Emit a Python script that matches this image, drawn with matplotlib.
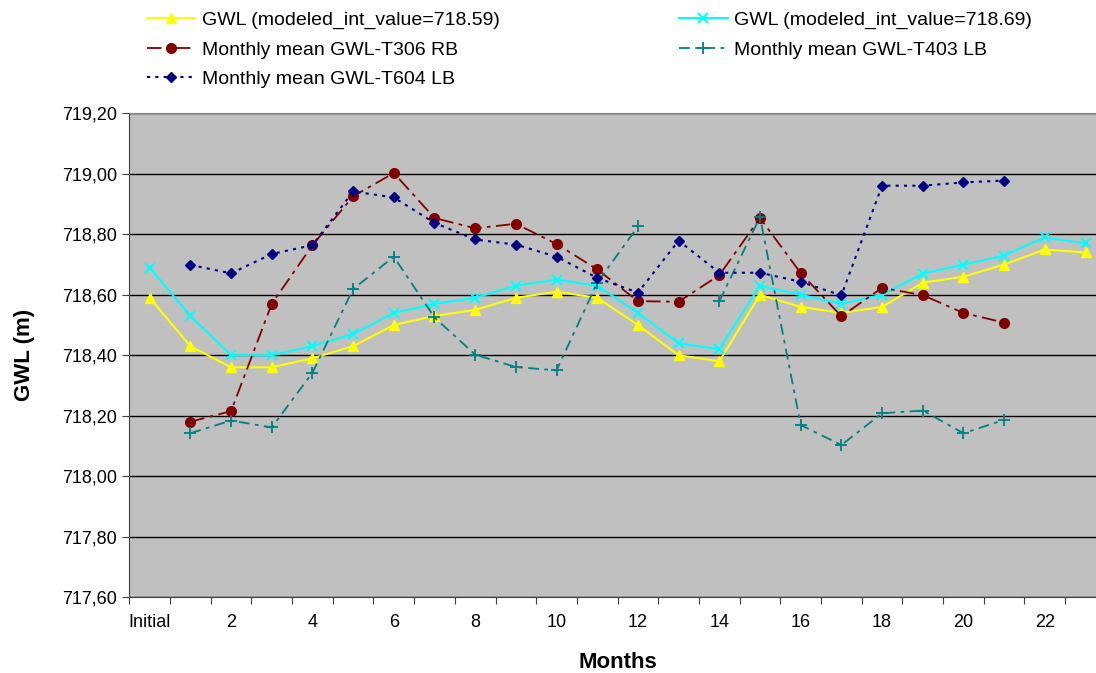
import numpy as np
import matplotlib
matplotlib.use("Agg")
import matplotlib.pyplot as plt

plt.rcParams['font.family'] = ['Liberation Sans', 'DejaVu Sans']

# x categories: Initial, 1..23
months = ['Initial'] + [str(m) for m in range(1, 24)]
nan = np.nan

gwl_0859 = [718.59, 718.43, 718.36, 718.36, 718.39, 718.43, 718.50, 718.53, 718.55, 718.59,
            718.61, 718.59, 718.50, 718.40, 718.38, 718.60, 718.56, 718.54, 718.56, 718.64,
            718.66, 718.70, 718.75, 718.74]
gwl_0869 = [718.69, 718.53, 718.40, 718.40, 718.43, 718.47, 718.54, 718.57, 718.59, 718.63,
            718.65, 718.63, 718.54, 718.44, 718.42, 718.63, 718.60, 718.57, 718.60, 718.67,
            718.70, 718.73, 718.79, 718.77]
t306_rb = [nan, 718.18, 718.215, 718.57, 718.764, 718.926, 719.003, 718.854, 718.82, 718.835,
           718.768, 718.684, 718.579, 718.577, 718.665, 718.854, 718.672, 718.529, 718.623, 718.599,
           718.54, 718.508, nan, nan]
t403_lb = [nan, 718.142, 718.184, 718.161, 718.342, 718.619, 718.726, 718.525, 718.402, 718.361,
           718.35, 718.64, 718.826, nan, 718.579, 718.857, 718.169, 718.103, 718.208, 718.217,
           718.142, 718.186, nan, nan]
t604_lb = [nan, 718.699, 718.671, 718.735, 718.764, 718.942, 718.922, 718.838, 718.783, 718.766,
           718.726, 718.656, 718.607, 718.779, 718.673, 718.673, 718.643, 718.598, 718.961, 718.961,
           718.972, 718.978, nan, nan]

x = np.arange(len(months))

fig = plt.figure(figsize=(10.96, 6.73), dpi=100)
# the plot area runs a little past the right edge of the picture
ax = fig.add_axes([0.118, 0.1129, 0.891, 0.7185])
ax.set_facecolor('#C0C0C0')

l1, = ax.plot(x, gwl_0859, color='#FFFF00', lw=1.5, marker='^', ms=7, mec='#FFFF00')
l2, = ax.plot(x, gwl_0869, color='#00FFFF', lw=1.5, marker='x', ms=7, mew=1.5)
l3, = ax.plot(x, t306_rb, color='#800000', lw=1.3, ls=(0, (8, 3, 2, 3)), marker='o', ms=7)
l4, = ax.plot(x, t403_lb, color='#008080', lw=1.3, ls=(0, (6, 3, 2, 3)), marker='+', ms=8, mew=1.3)
l5, = ax.plot(x, t604_lb, color='#000080', lw=1.5, ls=(0, (1.5, 2.5)), marker='D', ms=5.5)

ax.set_xlim(-0.5, 23.5)
ax.set_ylim(717.6, 719.2)

yt = np.arange(717.6, 719.21, 0.2)
ax.set_yticks(yt)
ax.set_yticklabels([('%.2f' % v).replace('.', ',') for v in yt])
ax.yaxis.grid(True, color='black', lw=1)
ax.set_axisbelow(True)

ax.set_xticks(np.arange(-0.5, 24, 1))
ax.set_xticklabels([])
ax.set_xticks(np.arange(0, 24, 2), minor=True)
ax.set_xticklabels([months[i] for i in range(0, 24, 2)], minor=True)
ax.tick_params(axis='x', which='major', direction='out', length=5, color='#404040')
ax.tick_params(axis='x', which='minor', length=0, pad=12, labelsize=13)
ax.tick_params(axis='y', direction='out', length=5, color='#404040', labelsize=13, pad=4)

for s in ['left', 'bottom']:
    ax.spines[s].set_color('#404040')
ax.spines['top'].set_color('#808080')
ax.spines['right'].set_visible(False)

ax.set_xlabel('Months', fontsize=16, fontweight='bold', labelpad=15)
ax.set_ylabel('GWL (m)', fontsize=16, fontweight='bold', labelpad=19)

handles = [l1, l3, l5, l2, l4]
names = ['GWL (modeled_int_value=718.59)', 'Monthly mean GWL-T306 RB', 'Monthly mean GWL-T604 LB',
         'GWL (modeled_int_value=718.69)', 'Monthly mean GWL-T403 LB']
fig.legend(handles, names, ncol=2, loc='upper left', bbox_to_anchor=(0.134, 0.983),
           frameon=False, fontsize=14, handlelength=2.5, handletextpad=0.35,
           columnspacing=9.2, labelspacing=0.6, borderpad=0, borderaxespad=0)

plt.savefig('out.png', dpi=100)
